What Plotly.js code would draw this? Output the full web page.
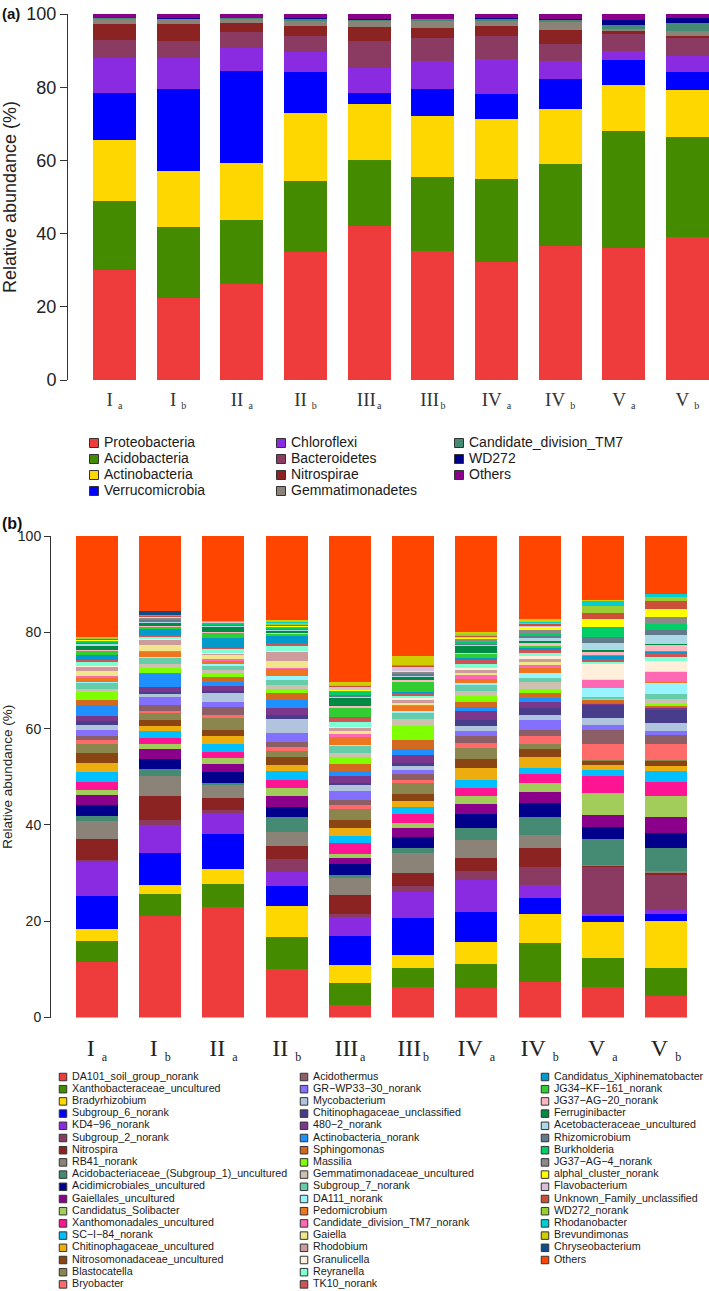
<!DOCTYPE html>
<html><head><meta charset="utf-8">
<script src="https://cdn.plot.ly/plotly-3.0.1.min.js"></script>
<style>html,body{margin:0;padding:0;background:#fff}#chart{width:709px;height:1291px}</style>
</head><body><div id="chart"></div>
<script>
// ---------- shared sample axis ----------
const samples = ['Ia','Ib','IIa','IIb','IIIa','IIIb','IVa','IVb','Va','Vb'];
const numerals = ['I','I','II','II','III','III','IV','IV','V','V'];
const subLetters = ['a','b','a','b','a','b','a','b','a','b'];

// ---------- panel (a): phyla ----------
const phylumNames = ['Proteobacteria','Acidobacteria','Actinobacteria','Verrucomicrobia','Chloroflexi','Bacteroidetes','Nitrospirae','Gemmatimonadetes','Candidate_division_TM7','WD272','Others'];
const phylumColors = ['#EE3B3B','#458B00','#FFD700','#0000FF','#8A2BE2','#8B3A62','#8B2323','#8B8378','#458B74','#00008B','#8B008B'];
const Proteobacteria   = [30.0,22.5,26.3,35.0,42.1,35.2,32.3,36.7,36.2,39.1];
const Acidobacteria    = [18.8,19.2,17.4,19.3,18.1,20.4,22.5,22.2,31.9,27.4];
const Actinobacteria   = [16.8,15.3,15.5,18.6,15.1,16.5,16.4,15.1,12.6,12.7];
const Verrucomicrobia  = [12.9,22.6,25.2,11.3, 3.2, 7.3, 6.9, 8.2, 6.8, 5.0];
const Chloroflexi      = [ 9.4, 8.3, 6.4, 5.5, 6.7, 7.8, 9.5, 5.0, 2.4, 4.3];
const Bacteroidetes    = [ 5.0, 4.6, 4.3, 4.4, 7.4, 6.3, 6.4, 4.6, 4.7, 5.0];
const Nitrospirae      = [ 4.4, 4.8, 2.5, 2.6, 3.8, 2.8, 2.6, 3.9, 0.7, 0.5];
const Gemmatimonadetes = [ 1.2, 1.2, 1.1, 1.5, 1.6, 1.9, 1.5, 2.1, 0.6, 1.4];
const TM7              = [ 0.3, 0.2, 0.2, 0.3, 0.4, 0.3, 0.6, 0.6, 1.1, 2.1];
const WD272            = [ 0.1, 0.1, 0.1, 0.4, 0.1, 0.1, 0.1, 0.2, 1.4, 1.3];
const PhylumOthers     = [ 1.1, 1.2, 1.0, 1.1, 1.5, 1.4, 1.3, 1.4, 1.6, 1.3];
const phylumSeries = [Proteobacteria,Acidobacteria,Actinobacteria,Verrucomicrobia,Chloroflexi,Bacteroidetes,Nitrospirae,Gemmatimonadetes,TM7,WD272,PhylumOthers];

// ---------- panel (b): genera ----------
const genusNames = ['DA101_soil_group_norank','Xanthobacteraceae_uncultured','Bradyrhizobium','Subgroup_6_norank','KD4\u221296_norank','Subgroup_2_norank','Nitrospira','RB41_norank','Acidobacteriaceae_(Subgroup_1)_uncultured','Acidimicrobiales_uncultured','Gaiellales_uncultured','Candidatus_Solibacter','Xanthomonadales_uncultured','SC\u2212I\u221284_norank','Chitinophagaceae_uncultured','Nitrosomonadaceae_uncultured','Blastocatella','Bryobacter',
'Acidothermus','GR\u2212WP33\u221230_norank','Mycobacterium','Chitinophagaceae_unclassified','480\u22122_norank','Actinobacteria_norank','Sphingomonas','Massilia','Gemmatimonadaceae_uncultured','Subgroup_7_norank','DA111_norank','Pedomicrobium','Candidate_division_TM7_norank','Gaiella','Rhodobium','Granulicella','Reyranella','TK10_norank',
'Candidatus_Xiphinematobacter','JG34\u2212KF\u2212161_norank','JG37\u2212AG\u221220_norank','Ferruginibacter','Acetobacteraceae_uncultured','Rhizomicrobium','Burkholderia','JG37\u2212AG\u22124_norank','alphal_cluster_norank','Flavobacterium','Unknown_Family_unclassified','WD272_norank','Rhodanobacter','Brevundimonas','Chryseobacterium','Others'];
const genusColors = ['#EE3B3B','#458B00','#FFD700','#0000FF','#8A2BE2','#8B3A62','#8B2323','#8B8378','#458B74','#00008B','#8B008B','#A2CD5A','#FF1493','#00BFFF','#EEAD0E','#8B4513','#8B864E','#FF6A6A',
'#8B5F65','#8470FF','#B0C4DE','#483D8B','#7A378B','#1E90FF','#D2691E','#7FFF00','#CDC0B0','#66CDAA','#98F5FF','#EE7621','#FF69B4','#F0E68C','#CD9B9B','#FFEFDB','#7FFFD4','#CD5555',
'#009ACD','#32CD32','#FFB6C1','#008B45','#ADD8E6','#607B8B','#00CD66','#8B8989','#FFFF00','#D8BFD8','#CD4F39','#9ACD32','#00CED1','#CDCD00','#104E8B','#FF4500'];

// genus abundances per sample (order = genusNames)
const genus_Ia   = [11.6,4.3,2.4,6.9,7.0,0.5,4.4,3.8,1.0,2.3,2.1,1.0,1.6,2.1,1.8,2.1,1.9,0.8,0.8,1.3,1.1,0.7,1.2,2.3,0.9,1.6,0.8,1.1,0.3,0.9,0.4,1.0,0.7,0.4,0.7,0.5,1.0,0.9,0.2,0.7,0.4,0.3,0.2,0.2,0.1,0.2,0.2,0.1,0.1,0.1,0.1,20.9];
const genus_Ib   = [21.1,4.5,1.9,6.6,5.9,1.0,5.0,4.1,1.6,2.0,2.1,1.1,1.1,1.4,1.2,1.2,1.4,0.5,1.1,1.7,0.6,0.4,1.1,2.7,0.2,1.0,1.0,1.1,0.2,1.2,0.2,1.2,1.0,0.3,0.4,0.3,1.2,0.6,0.2,0.6,0.2,0.3,0.2,0.3,0.1,0.1,0.1,0.1,0.1,0.1,0.8,15.6];
const genus_IIa  = [23.0,4.7,3.1,7.3,4.3,0.6,2.5,2.8,0.5,2.1,1.8,1.1,1.3,1.7,1.7,1.2,2.6,0.6,1.5,1.1,1.8,0.5,1.1,0.8,1.1,0.8,0.6,0.8,0.4,0.7,0.3,0.8,0.3,0.3,0.7,0.3,2.1,1.0,0.2,1.1,0.2,0.2,0.1,0.2,0.1,0.1,0.1,0.1,0.0,0.1,0.0,17.6];
const genus_IIb  = [10.1,6.7,6.4,4.2,2.9,2.7,2.6,2.9,3.1,2.2,2.3,1.6,1.6,1.9,1.3,1.6,1.2,0.8,1.2,1.7,2.9,1.0,1.3,1.7,1.5,0.9,0.8,1.0,0.9,1.3,0.2,1.5,1.9,0.3,0.9,0.7,1.4,0.5,0.2,0.3,0.2,0.2,0.2,0.2,0.3,0.1,0.2,0.4,0.1,0.5,0.0,17.4];
const genus_IIIa = [2.5,4.7,3.7,6.0,4.0,0.5,4.0,3.6,0.6,2.2,1.3,0.8,2.3,1.5,1.7,1.6,2.4,0.7,1.1,1.8,1.2,0.6,1.3,1.0,1.6,1.3,0.9,1.5,0.2,1.7,0.6,0.5,0.7,0.3,0.9,0.8,0.4,1.7,0.4,1.7,0.3,0.3,0.6,0.3,0.3,0.6,0.2,0.1,0.1,0.6,0.0,30.3];
const genus_IIIb = [6.4,3.9,2.7,7.7,5.4,1.2,2.8,4.1,0.9,2.3,2.0,1.0,1.9,1.4,1.2,1.5,2.2,0.7,1.2,0.9,0.9,0.6,1.7,1.1,1.9,3.0,1.4,1.3,0.3,1.1,0.3,0.4,0.5,0.4,0.5,0.5,0.4,2.0,0.3,0.8,0.2,0.3,0.2,0.3,0.1,0.9,0.2,0.1,0.1,1.9,0.0,24.9];
const genus_IVa  = [6.1,5.0,4.6,6.2,6.7,1.8,2.7,3.8,2.4,3.0,2.0,1.8,1.5,1.8,2.5,1.8,2.2,1.2,1.3,1.2,1.0,1.2,1.8,0.9,1.0,1.2,1.1,1.3,0.4,0.8,0.8,0.4,0.6,0.4,0.9,0.9,0.3,0.8,0.2,1.5,0.3,0.2,0.3,0.8,0.1,0.2,0.3,0.3,0.1,0.4,0.0,19.9];
const genus_IVb  = [7.3,8.1,6.0,3.5,2.6,3.8,4.0,2.6,3.8,2.9,2.2,1.8,1.9,1.4,2.1,1.7,1.0,1.7,1.3,2.1,1.1,1.4,1.2,0.8,1.0,0.9,1.5,0.9,1.0,1.0,0.6,0.7,0.6,0.6,0.6,0.6,0.5,0.4,0.5,0.4,0.7,0.5,0.3,0.8,0.6,0.3,0.4,0.3,0.2,0.5,0.0,17.3];
const genus_Va   = [6.4,5.9,7.5,1.3,0.5,9.6,0.3,0.1,5.5,2.5,2.5,4.6,3.4,1.4,0.9,0.9,0.1,3.5,2.8,1.1,1.3,2.8,0.3,0.2,0.5,0.1,0.2,0.4,1.8,0.1,1.6,0.2,0.1,3.0,0.5,0.6,0.5,0.2,0.8,0.3,1.5,1.3,2.0,0.1,1.5,0.1,1.2,1.4,1.2,0.1,0.0,13.3];
const genus_Vb   = [4.5,5.7,9.9,1.4,0.8,7.3,0.5,0.4,4.6,3.3,3.3,4.2,3.1,2.1,1.1,1.1,0.1,3.5,1.8,0.9,1.5,2.8,0.3,0.2,0.2,0.6,0.9,1.1,2.3,0.1,2.2,0.1,0.1,2.0,0.8,0.8,0.3,0.2,1.3,0.2,1.8,1.1,1.2,1.5,1.6,0.1,1.5,1.0,0.5,0.1,0.0,12.0];
const genusBySample = [genus_Ia,genus_Ib,genus_IIa,genus_IIb,genus_IIIa,genus_IIIb,genus_IVa,genus_IVb,genus_Va,genus_Vb];

// ---------- build ----------
const W = 709, H = 1291;
const SERIF = 'Liberation Serif, Times New Roman, serif';
const SANS = 'Liberation Sans, Arial, sans-serif';
const fy = px => 1 - px/H;
const fx = px => px/W;

const traces = [];
phylumNames.forEach((nm,k)=>{
  traces.push({type:'bar', name:nm, x:samples, y:phylumSeries[k], xaxis:'x', yaxis:'y',
    width:0.675, marker:{color:phylumColors[k], line:{width:0}}, showlegend:false, hoverinfo:'name+y'});
});
genusNames.forEach((nm,k)=>{
  traces.push({type:'bar', name:nm, x:samples, y:genusBySample.map(arr=>arr[k]), xaxis:'x2', yaxis:'y2',
    width:0.665, marker:{color:genusColors[k], line:{width:0}}, showlegend:false, hoverinfo:'name+y'});
});
// empty traces so that the label overlay axes are created
['x4','x5'].forEach(ax=>traces.push({type:'scatter', mode:'markers', x:[], y:[], xaxis:ax, yaxis:'y', showlegend:false, hoverinfo:'skip'}));
['x6','x7'].forEach(ax=>traces.push({type:'scatter', mode:'markers', x:[], y:[], xaxis:ax, yaxis:'y2', showlegend:false, hoverinfo:'skip'}));

// custom legends drawn on a page-sized overlay axis pair (x3/y3 in pixel units)
function legendTraces(names, colors, perCol, colX, row0, rowStep, textGap, symSize, fontSize){
  const xs=[], ys=[], tx=[];
  names.forEach((n,i)=>{ const c=Math.floor(i/perCol), r=i%perCol;
    xs.push(colX[c]); ys.push(row0 + r*rowStep); tx.push(colX[c]+textGap); });
  return [
    {type:'scatter', mode:'markers', x:xs, y:ys, xaxis:'x3', yaxis:'y3', showlegend:false, hoverinfo:'skip', cliponaxis:false,
     marker:{symbol:'square', size:symSize, color:colors, line:{color:'#333', width:1}}},
    {type:'scatter', mode:'text', x:tx, y:ys, text:names, textposition:'middle right', xaxis:'x3', yaxis:'y3',
     showlegend:false, hoverinfo:'skip', cliponaxis:false,
     textfont:{family:SANS, size:fontSize, color:'#1a1a1a'}}
  ];
}
traces.push(...legendTraces(phylumNames, phylumColors, 4, [94,281,459], 443, 16, 10, 9, 14));
traces.push(...legendTraces(genusNames, genusColors, 18, [63,304,545], 1077, 12.2, 9, 7.5, 10.7));

// sample tick labels: numeral + smaller lowered letter, placed on two overlay axes
const cv = document.createElement('canvas').getContext('2d');
const textW = (t, size) => { cv.font = size + 'px "Liberation Serif"'; return cv.measureText(t).width; };
function labelAxes(pxPerUnit, numSize, letSize, gapPx){
  const nv=[], lv=[];
  samples.forEach((s,i)=>{
    const wn = textW(numerals[i], numSize), wl = textW(subLetters[i], letSize);
    const g = numerals[i]==='III' ? gapPx*0.25 : gapPx;
    const w = wn + g + wl;
    nv.push(i + (-w/2 + wn/2)/pxPerUnit);
    lv.push(i + ( w/2 - wl/2)/pxPerUnit);
  });
  return {nv, lv};
}
const la = labelAxes(63.7, 19, 10, 5);
const lb = labelAxes(63.2, 24, 12, 7);

const hiddenCat = {showline:false, showgrid:false, zeroline:false, ticks:'', showticklabels:false};
const layout = {
  width:W, height:H, margin:{l:0,r:0,t:0,b:0}, paper_bgcolor:'#fff', plot_bgcolor:'rgba(0,0,0,0)',
  barmode:'stack', showlegend:false,
  xaxis:Object.assign({domain:[fx(68),1], anchor:'y', type:'category', range:[-0.73,9.338]}, hiddenCat),
  xaxis4:{overlaying:'x', anchor:'y', domain:[fx(68),1], type:'linear', range:[-0.73,9.338], showline:false, showgrid:false, zeroline:false,
    ticks:'', tickvals:la.nv, ticktext:numerals, ticklabelstandoff:6, tickfont:{family:SERIF, size:19, color:'#333'}},
  xaxis5:{overlaying:'x', anchor:'y', domain:[fx(68),1], type:'linear', range:[-0.73,9.338], showline:false, showgrid:false, zeroline:false,
    ticks:'', tickvals:la.lv, ticktext:subLetters, ticklabelstandoff:18, tickfont:{family:SERIF, size:10, color:'#333'}},
  yaxis:{domain:[fy(380),fy(14)], anchor:'x', range:[0,100], tickvals:[0,20,40,60,80,100], showline:true, linecolor:'#333', linewidth:1,
    ticks:'outside', ticklen:7, tickcolor:'#333', showgrid:false, zeroline:false,
    tickfont:{family:SANS, size:18, color:'#222'},
    title:{text:'Relative abundance (%)', font:{family:SANS, size:18, color:'#222'}, standoff:6}},
  xaxis2:Object.assign({domain:[fx(51),1], anchor:'y2', type:'category', range:[-0.728,9.68]}, hiddenCat),
  xaxis6:{overlaying:'x2', anchor:'y2', domain:[fx(51),1], type:'linear', range:[-0.728,9.68], showline:false, showgrid:false, zeroline:false,
    ticks:'', tickvals:lb.nv, ticktext:numerals, ticklabelstandoff:13, tickfont:{family:SERIF, size:24, color:'#222'}},
  xaxis7:{overlaying:'x2', anchor:'y2', domain:[fx(51),1], type:'linear', range:[-0.728,9.68], showline:false, showgrid:false, zeroline:false,
    ticks:'', tickvals:lb.lv, ticktext:subLetters, ticklabelstandoff:30, tickfont:{family:SERIF, size:12, color:'#222'}},
  yaxis2:{domain:[fy(1017.5),fy(536)], anchor:'x2', range:[0,100], tickvals:[0,20,40,60,80,100], showline:true, linecolor:'#333', linewidth:1,
    ticks:'outside', ticklen:6, tickcolor:'#333', showgrid:false, zeroline:false,
    tickfont:{family:SANS, size:14, color:'#222'},
    title:{text:'Relative abundance (%)', font:{family:SANS, size:13.5, color:'#222'}, standoff:6}},
  xaxis3:{domain:[0,1], anchor:'y3', range:[0,W], visible:false, fixedrange:true},
  yaxis3:{domain:[0,1], anchor:'x3', range:[H,0], visible:false, fixedrange:true},
  annotations:[
    {text:'<b>(a)</b>', xref:'paper', yref:'paper', x:0, y:fy(3), xanchor:'left', yanchor:'top', showarrow:false,
     font:{family:SANS, size:15, color:'#111'}},
    {text:'<b>(b)</b>', xref:'paper', yref:'paper', x:0, y:fy(513), xanchor:'left', yanchor:'top', showarrow:false,
     font:{family:SANS, size:16, color:'#111'}}
  ]
};
Plotly.newPlot('chart', traces, layout, {displayModeBar:false, staticPlot:true});
</script></body></html>
